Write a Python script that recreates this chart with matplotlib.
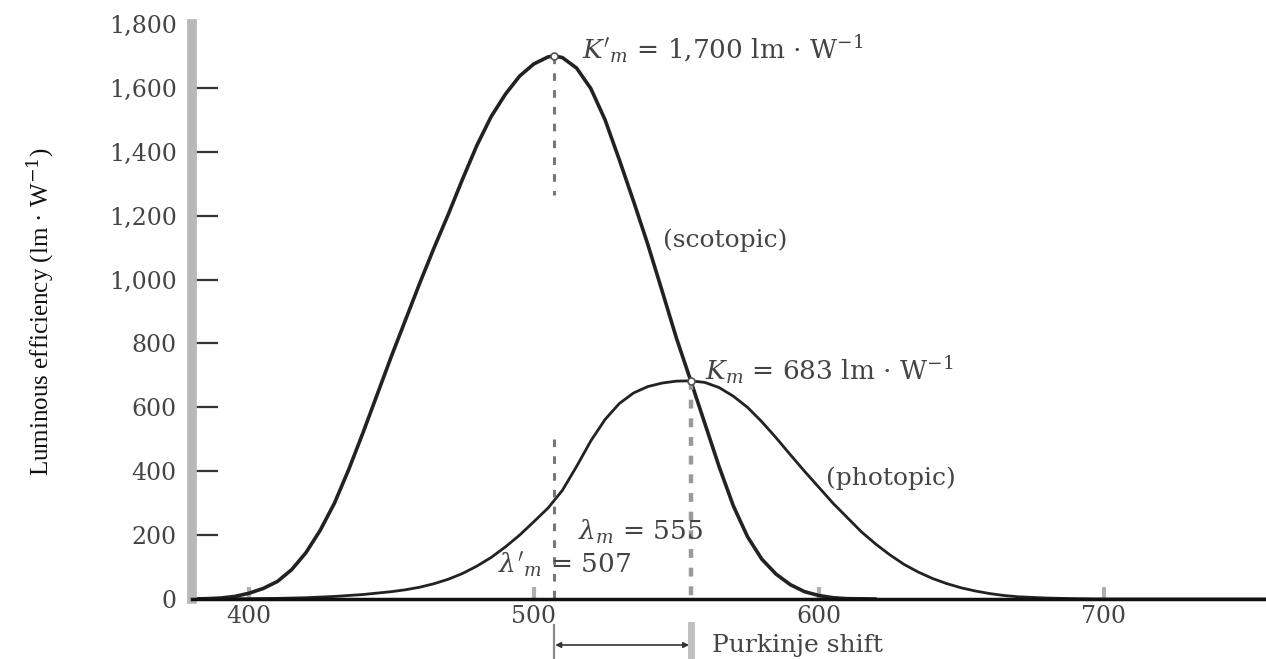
#Imports matplotlib to draw the figure
import matplotlib
matplotlib.use("Agg")
import matplotlib.pyplot as plt

#Wavelengths (nm) and values (lm/W)
scot_nm = [380, 385, 390, 395, 400, 405, 410, 415, 420, 425, 430, 435, 440, 445, 450, 455,
           460, 465, 470, 475, 480, 485, 490, 495, 500, 505, 507, 510, 515, 520, 525, 530,
           535, 540, 545, 550, 555, 560, 565, 570, 575, 580, 585, 590, 595, 600, 605, 610, 620]
scot_val = [0, 1, 3, 8, 18, 33, 55, 92, 145, 215, 300, 405, 520, 640, 760, 875,
            990, 1100, 1205, 1315, 1420, 1510, 1580, 1637, 1675, 1697, 1700, 1695, 1662, 1598, 1500, 1375,
            1245, 1110, 965, 818, 685, 550, 415, 292, 195, 125, 78, 45, 23, 11, 4, 1, 0]

#Wavelengths (nm) and values (lm/W)
phot_nm = [380, 400, 410, 420, 430, 440, 450, 455, 460, 465, 470, 475, 480, 485, 490, 495,
           500, 505, 510, 515, 520, 525, 530, 535, 540, 545, 550, 555, 560, 565, 570, 575,
           580, 585, 590, 595, 600, 605, 610, 615, 620, 625, 630, 635, 640, 645, 650, 655,
           660, 665, 670, 680, 690, 700, 757]
phot_val = [0, 1, 2, 4, 8, 14, 23, 29, 37, 48, 62, 80, 103, 130, 163, 200,
            242, 285, 340, 415, 495, 562, 612, 645, 665, 676, 682, 683, 678, 662, 635, 600,
            555, 505, 452, 400, 350, 300, 255, 210, 172, 138, 108, 84, 64, 48, 35, 25,
            17, 11, 7, 3, 1, 0, 0]

#Peaks of the two curves
peak_nm = [507, 555]
peak_val = [1700, 683]

#Tick values
x_ticks = [400, 500, 600, 700]
y_ticks = [0, 200, 400, 600, 800, 1000, 1200, 1400, 1600, 1800]
y_labels = ["0", "200", "400", "600", "800", "1,000", "1,200", "1,400", "1,600", "1,800"]

plt.rcParams['font.family'] = 'DejaVu Serif'
plt.rcParams['mathtext.fontset'] = 'dejavuserif'
txt = '#444444'

fig = plt.figure(figsize=(12.66, 6.59), dpi=100)
ax = fig.add_axes([192/1266, 1-599/659, 1-192/1266, 575/659])

#Draws the two curves
ax.plot(scot_nm, scot_val, color='#222222', lw=2.6, solid_capstyle='round')
ax.plot(phot_nm, phot_val, color='#222222', lw=2.0, solid_capstyle='round')

#Dashed lines below the peaks
ax.plot([peak_nm[0], peak_nm[0]], [peak_val[0], 1265], color='#777777', lw=2.2, ls=(0, (2.5, 3)))
ax.plot([peak_nm[0], peak_nm[0]], [500, 0], color='#777777', lw=2.2, ls=(0, (2.5, 3)))
ax.plot([peak_nm[1], peak_nm[1]], [peak_val[1], 0], color='#9a9a9a', lw=3.2, ls=(0, (2, 2.2)))

#Small circles on the peaks
ax.plot(peak_nm, peak_val, 'o', ms=5, mfc='white', mec='#555555', mew=1.2)

#Marks under the axis for the Purkinje shift
ax.plot([peak_nm[0], peak_nm[0]], [-81, -190], color='#8a8a8a', lw=1.6, clip_on=False)
ax.plot([peak_nm[1], peak_nm[1]], [-81, -190], color='#c0c0c0', lw=5, clip_on=False)
ax.annotate('', xy=(peak_nm[1] - 0.5, -144), xytext=(peak_nm[0] + 0.5, -144),
            arrowprops=dict(arrowstyle='<|-|>', color='#333333', lw=1.2,
                            mutation_scale=8, shrinkA=0, shrinkB=0),
            annotation_clip=False)
ax.text(562.5, -146, 'Purkinje shift', ha='left', va='center', fontsize=18,
        color=txt, clip_on=False)

#Labels on the chart
ax.text(516.8, 1722, r"$K'_m$ = 1,700 lm · W$^{-1}$", fontsize=19, color=txt, va='center')
ax.text(545.3, 1124, "(scotopic)", fontsize=18, color=txt, va='center')
ax.text(560, 717, r"$K_m$ = 683 lm · W$^{-1}$", fontsize=19, color=txt, va='center')
ax.text(602.5, 379, "(photopic)", fontsize=18, color=txt, va='center')
ax.text(515.4, 210, r"$\lambda_m$ = 555", fontsize=19, color=txt, va='center')
ax.text(487.4, 106, r"$\lambda'_m$ = 507", fontsize=19, color=txt, va='center')

#Axis limits, ticks and labels
ax.set_xlim(380, 757)
ax.set_ylim(0, 1800)
ax.set_xticks(x_ticks)
ax.set_yticks(y_ticks)
ax.set_yticklabels(y_labels)
ax.tick_params(axis='y', direction='in', length=19, width=1.6, color='#333333',
               labelsize=17, labelcolor=txt, pad=11)
ax.tick_params(axis='x', direction='in', length=9, width=3, color='#b0b0b0',
               labelsize=17, labelcolor=txt, pad=4)
ax.yaxis.get_major_ticks()[-1].tick1line.set_visible(False)
ax.yaxis.get_major_ticks()[0].tick1line.set_visible(False)

for side in ['top', 'right']:
    ax.spines[side].set_visible(False)
ax.spines['left'].set_color('#b8b8b8')
ax.spines['left'].set_linewidth(7)
ax.spines['bottom'].set_color('#111111')
ax.spines['bottom'].set_linewidth(2.5)

ax.set_ylabel(r"Luminous efficiency (lm · W$^{-1}$)", family='Liberation Serif',
              fontsize=18, color='#111111', labelpad=38)

#Saves the picture
fig.savefig('out.png', dpi=100)
